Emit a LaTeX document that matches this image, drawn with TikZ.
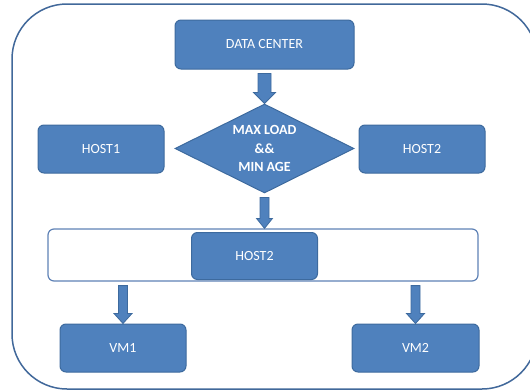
\documentclass[tikz,border=0pt]{standalone}
\usepackage{fontspec}
\setmainfont{Carlito}
\usetikzlibrary{shapes.geometric,calc}

\definecolor{boxblue}{HTML}{4F81BD}
\definecolor{boxedge}{HTML}{3D6A9E}
\definecolor{frameblue}{HTML}{41689A}
\definecolor{groupedge}{HTML}{5F82B6}

\tikzset{
  blockbox/.style={draw=boxedge, line width=1pt, fill=boxblue, rounded corners=6pt,
    text=white, font=\fontsize{14}{17}\selectfont, inner sep=0pt},
  decision/.style={diamond, draw=boxedge, line width=1pt, fill=boxblue, aspect=2,
    text=white, font=\bfseries\fontsize{14}{18.5}\selectfont, align=center, inner sep=0pt,
    minimum width=179pt, minimum height=89pt},
  groupbox/.style={draw=groupedge, line width=1.2pt, fill=white, rounded corners=6pt,
    inner sep=0pt},
  blockarr/.style={draw=boxedge, line width=0.8pt, fill=boxblue, line join=miter},
}

% Block arrow from #1 down to the tip #2; #3 shaft half width, #4 head half width, #5 head length
\newcommand{\blockarrow}[5]{%
  \path[blockarr] let \p1=(#1), \p2=(#2) in
    (\x1-#3,\y1) -- (\x1+#3,\y1) -- (\x1+#3,\y2+#5) -- (\x1+#4,\y2+#5)
    -- (\x1,\y2) -- (\x1-#4,\y2+#5) -- (\x1-#3,\y2+#5) -- cycle;}

\begin{document}
\begin{tikzpicture}[x=1pt,y=-1pt]
  \useasboundingbox (0,0) rectangle (530,391);
  \clip (0,0) rectangle (530,391);

  % outer frame
  \draw[frameblue, line width=1.5pt, rounded corners=55pt] (12,4) rectangle (537,389);

  % nodes
  \node[blockbox, minimum width=179pt, minimum height=49pt] (dc) at (264.5,44.5) {DATA CENTER};
  \node[decision] (dm) at (264.5,148.5) {MAX LOAD\\\&\&\\MIN AGE};
  \node[blockbox, minimum width=126pt, minimum height=48pt] (h1) at (101,149) {HOST1};
  \node[blockbox, minimum width=126pt, minimum height=48pt] (h2) at (422,149) {HOST2};

  \node[groupbox, minimum width=430pt, minimum height=52pt] (grp) at (263,255) {};
  \node[blockbox, minimum width=126pt, minimum height=47pt] (hin) at (254.5,256) {HOST2};

  \node[blockbox, minimum width=126pt, minimum height=48pt] (vm1) at (123,348) {VM1};
  \node[blockbox, minimum width=127pt, minimum height=48pt] (vm2) at (415.5,348) {VM2};

  % arrow end points
  \coordinate (a1s) at ($(dc.south)+(0,4)$);
  \coordinate (a2s) at ($(dm.south)+(0,4)$);
  \coordinate (a2t) at (dm.south |- grp.north);
  \coordinate (a3s) at ($(vm1.north |- grp.south)+(0,4)$);
  \coordinate (a4s) at ($(vm2.north |- grp.south)+(0,4)$);

  % block arrows
  \blockarrow{a1s}{dm.north}{6.5pt}{11pt}{11pt}
  \blockarrow{a2s}{a2t}{4.5pt}{8pt}{10pt}
  \blockarrow{a3s}{vm1.north}{4.5pt}{9pt}{10pt}
  \blockarrow{a4s}{vm2.north}{4.5pt}{9pt}{10pt}
\end{tikzpicture}
\end{document}
